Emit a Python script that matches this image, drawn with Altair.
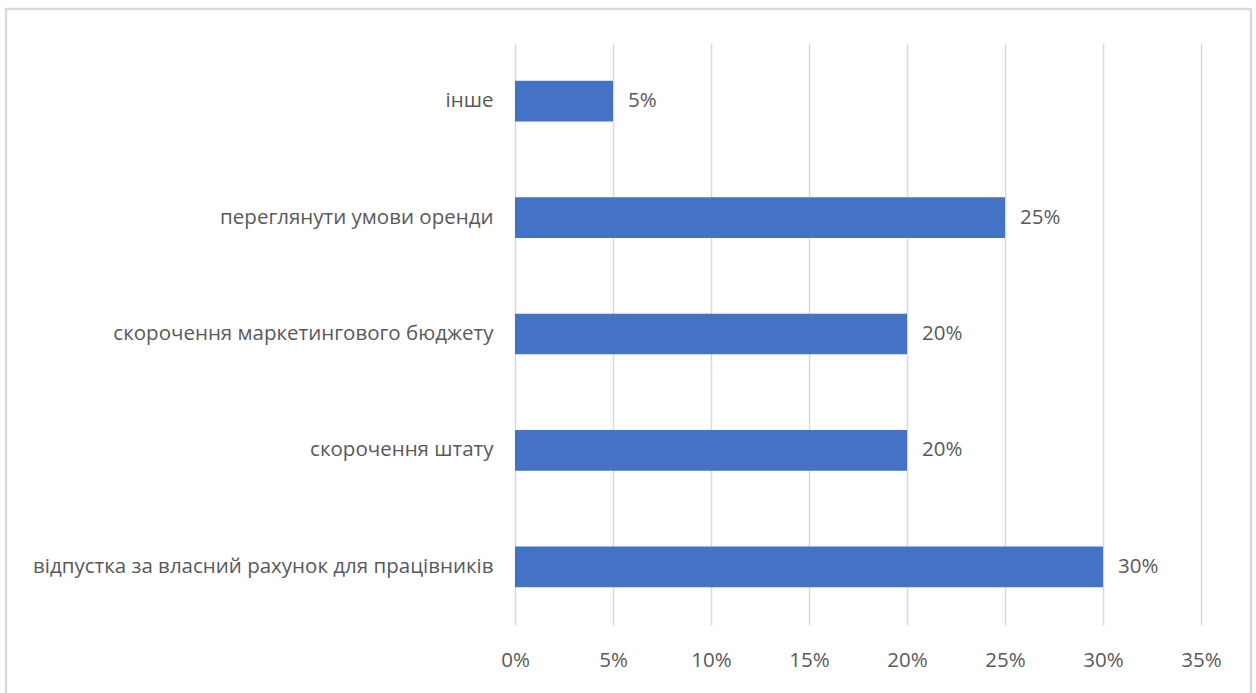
import altair as alt
import pandas as pd

categories = [
    "інше",
    "переглянути умови оренди",
    "скорочення маркетингового бюджету",
    "скорочення штату",
    "відпустка за власний рахунок для працівників",
]
values = [0.05, 0.25, 0.20, 0.20, 0.30]
x_ticks = [0, 0.05, 0.10, 0.15, 0.20, 0.25, 0.30, 0.35]

df = pd.DataFrame({"cat": categories, "val": values})

W, H = 686, 582
PAD = {"left": 515, "top": 43, "right": 55, "bottom": 68}
FONT = "Open Sans"
FS = 20.5
TXT = "#595959"

x = alt.X(
    "val:Q",
    scale=alt.Scale(domain=[0, 0.35], nice=False),
    axis=alt.Axis(
        values=x_ticks, format=".0%", title=None, domain=False, ticks=False,
        grid=True, gridColor="#d9d9d9", gridWidth=1.5,
        labelFont=FONT, labelFontSize=FS, labelColor=TXT, labelPadding=25,
        labelFlush=False, labelOverlap=False,
    ),
)
y = alt.Y(
    "cat:N", sort=categories,
    scale=alt.Scale(paddingInner=0.65, paddingOuter=0.325),
    axis=alt.Axis(
        title=None, domain=False, ticks=False, grid=False,
        labelFont=FONT, labelFontSize=FS, labelColor=TXT, labelPadding=22,
        labelLimit=600,
    ),
)

bars = alt.Chart(df).mark_bar(color="#4472c4").encode(x=x, y=y)
labels = alt.Chart(df).mark_text(
    align="left", baseline="middle", dx=15, font=FONT, fontSize=FS, color=TXT
).encode(
    x=alt.X("val:Q"), y=alt.Y("cat:N", sort=categories), text=alt.Text("val:Q", format=".0%")
)

border = alt.Chart(pd.DataFrame({"a": [0]})).mark_rect(
    fill=None, stroke="#d9d9d9", strokeWidth=2.5
).encode(
    x=alt.value(6 - 515), x2=alt.value(1251 - 515),
    y=alt.value(9 - 43), y2=alt.value(720 - 43),
)

chart = alt.layer(bars, labels, border).properties(
    width=W, height=H, padding=PAD, autosize=alt.AutoSizeParams(type="none"),
    background="white",
).configure_view(stroke=None)

chart.save("out.html", embed_options={"renderer": "svg", "actions": False})
